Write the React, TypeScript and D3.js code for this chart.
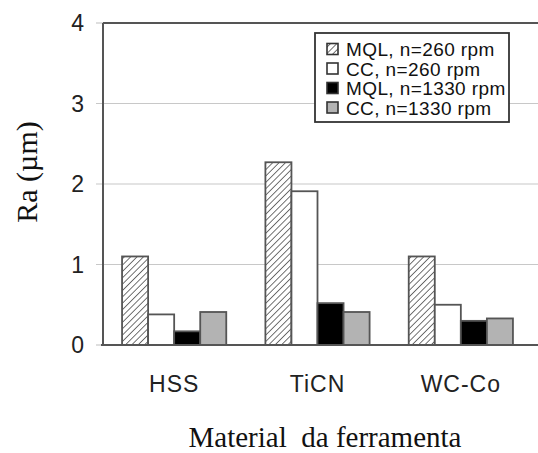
import { useRef, useEffect } from 'react'
import * as d3 from 'd3'

const materials = ["HSS", "TiCN", "WC-Co"]
const seriesNames = ["MQL, n=260 rpm", "CC, n=260 rpm", "MQL, n=1330 rpm", "CC, n=1330 rpm"]
const mql260 = [1.1, 2.27, 1.1]
const cc260 = [0.38, 1.91, 0.5]
const mql1330 = [0.17, 0.52, 0.3]
const cc1330 = [0.41, 0.41, 0.33]
const yTicks = [0, 1, 2, 3, 4]

const width = 538
const height = 453
const margin = { top: 23, right: -8, bottom: 108, left: 103 }

export default function App() {
  const svgRef = useRef<SVGSVGElement>(null)

  useEffect(() => {
    if (!svgRef.current) return
    const svg = d3.select(svgRef.current)
    svg.selectAll("*").remove()

    const innerWidth = width - margin.left - margin.right
    const innerHeight = height - margin.top - margin.bottom
    const series = [mql260, cc260, mql1330, cc1330]
    const fills = ["url(#hatch)", "#ffffff", "#000000", "#b3b3b3"]

    // hatch pattern
    const defs = svg.append("defs")
    const pat = defs.append("pattern")
      .attr("id", "hatch")
      .attr("patternUnits", "userSpaceOnUse")
      .attr("width", 4.5)
      .attr("height", 4.5)
      .attr("patternTransform", "rotate(45)")
    pat.append("rect").attr("width", 4.5).attr("height", 4.5).attr("fill", "#fff")
    pat.append("line")
      .attr("x1", 0).attr("y1", 0).attr("x2", 0).attr("y2", 4.5)
      .attr("stroke", "#444").attr("stroke-width", 1.5)

    const x0 = d3.scaleBand()
      .domain(materials)
      .range([0, 429])
      .paddingInner(0.273)
      .paddingOuter(0.133)

    const x1 = d3.scaleBand()
      .domain(d3.range(4).map(String))
      .range([0, x0.bandwidth()])

    const y = d3.scaleLinear().domain([0, 4]).range([innerHeight, 0])

    const g = svg.append("g").attr("transform", `translate(${margin.left},${margin.top})`)

    // gridlines + left tick stubs
    g.selectAll("line.grid")
      .data(yTicks.filter(t => t > 0 && t < 4))
      .enter()
      .append("line")
      .attr("x1", -7)
      .attr("x2", innerWidth)
      .attr("y1", d => y(d))
      .attr("y2", d => y(d))
      .attr("stroke", "#c8c8c8")
      .attr("stroke-width", 1.2)

    g.selectAll("line.stub")
      .data([0, 4])
      .enter()
      .append("line")
      .attr("x1", -7)
      .attr("x2", 0)
      .attr("y1", d => y(d))
      .attr("y2", d => y(d))
      .attr("stroke", "#c8c8c8")
      .attr("stroke-width", 1.2)

    // bars
    materials.forEach((m, i) => {
      const grp = g.append("g").attr("transform", `translate(${x0(m)},0)`)
      series.forEach((s, j) => {
        grp.append("rect")
          .attr("x", x1(String(j)) || 0)
          .attr("y", y(s[i]))
          .attr("width", x1.bandwidth())
          .attr("height", innerHeight - y(s[i]))
          .attr("fill", fills[j])
          .attr("stroke", "#555")
          .attr("stroke-width", 1.8)
      })
    })

    // frame
    g.append("line").attr("x1", 0).attr("x2", 0).attr("y1", 0).attr("y2", innerHeight)
      .attr("stroke", "#555").attr("stroke-width", 2)
    g.append("line").attr("x1", 0).attr("x2", innerWidth).attr("y1", 0).attr("y2", 0)
      .attr("stroke", "#555").attr("stroke-width", 2)
    g.append("line").attr("x1", -2).attr("x2", innerWidth).attr("y1", innerHeight).attr("y2", innerHeight)
      .attr("stroke", "#555").attr("stroke-width", 2)

    // y tick labels
    g.selectAll("text.ytick")
      .data(yTicks)
      .enter()
      .append("text")
      .attr("x", -19)
      .attr("y", d => y(d))
      .attr("dy", "0.36em")
      .attr("text-anchor", "end")
      .attr("font-family", "'Liberation Sans', Arial, sans-serif")
      .attr("font-size", 23)
      .attr("fill", "#222")
      .text(d => d)

    // x tick labels
    g.selectAll("text.xtick")
      .data(materials)
      .enter()
      .append("text")
      .attr("x", d => (x0(d) || 0) + x0.bandwidth() / 2)
      .attr("y", innerHeight + 47)
      .attr("text-anchor", "middle")
      .attr("font-family", "'Liberation Sans', Arial, sans-serif")
      .attr("font-size", 23)
      .attr("letter-spacing", 1)
      .attr("fill", "#222")
      .text(d => d)

    // axis titles
    svg.append("text")
      .attr("x", 325)
      .attr("y", 447)
      .attr("text-anchor", "middle")
      .attr("font-family", "'Liberation Serif', 'Times New Roman', serif")
      .attr("font-size", 29)
      .attr("fill", "#111")
      .attr("xml:space", "preserve")
      .text("Material  da ferramenta")

    svg.append("text")
      .attr("transform", "translate(37,172) rotate(-90)")
      .attr("text-anchor", "middle")
      .attr("font-family", "'Liberation Serif', 'Times New Roman', serif")
      .attr("font-size", 30)
      .attr("fill", "#111")
      .text("Ra (µm)")

    // legend
    const lg = svg.append("g").attr("transform", "translate(315,33)")
    lg.append("rect")
      .attr("width", 194)
      .attr("height", 89)
      .attr("fill", "#fff")
      .attr("stroke", "#333")
      .attr("stroke-width", 1.8)
    seriesNames.forEach((name, j) => {
      const rowY = 16 + j * 19.5
      lg.append("rect")
        .attr("x", 12)
        .attr("y", rowY - 5.5)
        .attr("width", 11)
        .attr("height", 11)
        .attr("fill", fills[j])
        .attr("stroke", "#333")
        .attr("stroke-width", 1.6)
      lg.append("text")
        .attr("x", 31)
        .attr("y", rowY + 7)
        .attr("font-family", "'Liberation Sans', Arial, sans-serif")
        .attr("font-size", 19)
        .attr("letter-spacing", 0.4)
        .attr("fill", "#111")
        .text(name)
    })
  }, [])

  return (
    <svg
      ref={svgRef}
      width={width}
      height={height}
      style={{ position: 'absolute', left: 0, top: 0, background: '#fff' }}
    />
  )
}
